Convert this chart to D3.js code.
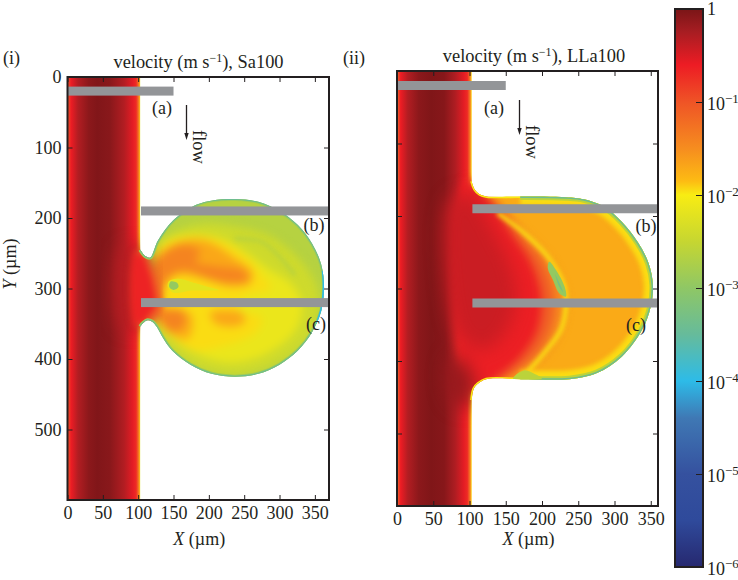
<!DOCTYPE html>
<html><head><meta charset="utf-8">
<script src="https://cdn.jsdelivr.net/npm/d3@7/dist/d3.min.js"></script>
<style>
html,body{margin:0;padding:0;background:#fff}
svg{display:block}
text{font-family:"Liberation Serif",serif;fill:#231f20}
</style></head><body><svg id="c" width="738" height="580"></svg>
<script>
// colour bar: log10 velocity -> colour
const barLevels=[0,-0.25,-0.6,-1,-1.5,-1.85,-2,-2.5,-3,-3.5,-4,-4.4,-5,-5.5,-6];
const barColours=["#7a1517","#a81d22","#ed1c24","#ef5426","#f68d1f","#fdbb13","#f8ec13","#c6d631","#8fc765","#66bb9b","#2dbbe8","#3f78b4","#35519f","#2f4a9b","#26286f"];
const barTicks=[1,1e-1,1e-2,1e-3,1e-4,1e-5,1e-6];
// axis ticks
const xTicks=[0,50,100,150,200,250,300,350];
const yTicks=[0,100,200,300,400,500];
// walls of the domains, µm
const channelI=[[103,600],[0,600],[0,0],[103,0]];
const rimI=[[103,245],[110,254],[117,256],[128,232],[150,203],[183,181],[205,175],[237,173],[270,177],[300,190],[326,210],[346,236],[359,266],[363,299],[359,332],[346,362],[326,388],[300,408],[270,421],[237,425],[204,421],[174,408],[148,388],[135,370],[126,354],[120,347],[113,345],[107,349],[103,354]];
const rimBlueI=[[362,275],[363,299],[360,328],[353,350]];
const channelII=[[103,600],[0,600],[0,0],[103,0]];
const rimII=[[103,152],[107,163],[114,170],[124,173],[170,173],[233,174],[258,177],[285,187],[310,208],[332,236],[347,265],[353,295],[350,325],[338,357],[310,394],[275,417],[238,425],[170,425],[123,425],[112,431],[106,438],[103,454]];
const rimBandII=[[170,173],[233,174],[258,177],[285,187],[310,208],[332,236],[347,265],[353,295],[350,325],[338,357],[310,394],[275,417],[238,425],[170,425]];
// velocity across the channel (x µm, log10 v)
const channelXI=[0,1.5,5,15,30,42,60,80,92,97,100,102,103];
const channelLogI=[-1.5,-0.9,-0.6,-0.3,-0.1,-0.04,-0.08,-0.3,-0.55,-0.7,-1.2,-1.7,-2];
const channelXII=[0,1.5,5,15,30,47,65,80,92,97,100,102,103];
const channelLogII=[-1.6,-1,-0.6,-0.3,-0.1,-0.03,-0.07,-0.28,-0.55,-0.7,-1.2,-1.7,-2];
// constant-velocity regions (log10 v, outline in µm), panel i
const baseLogI=-2.65;
const wideLogI=[-2.42,-2.13,-1.95,-1.7,-1.75,-1.7,-1.42,-1.42];
const wideShapesI=[
 [[122,250],[147,222],[190,208],[237,212],[284,224],[325,255],[352,295],[356,330],[342,370],[302,404],[247,422],[190,415],[147,386],[126,356]],
 [[135,235],[176,224],[214,228],[247,245],[284,272],[316,293],[332,323],[322,360],[286,390],[237,405],[190,396],[150,372],[126,345],[112,300]],
 [[129,245],[166,226],[209,229],[256,257],[275,281],[287,300],[251,311],[240,328],[275,342],[265,363],[218,382],[176,387],[143,363],[124,344],[112,300]],
 [[124,262],[148,238],[185,231],[209,238],[237,257],[261,276],[258,293],[228,297],[190,286],[157,281],[138,295],[129,305]],
 [[122,328],[152,328],[176,338],[171,371],[148,366],[129,347]],
 [[202,335],[223,331],[247,335],[251,347],[232,354],[209,349]],
 [[117,271],[138,248],[166,238],[188,248],[181,262],[214,269],[247,274],[256,286],[237,291],[204,286],[166,274],[143,283],[131,305]],
 [[119,331],[138,331],[162,331],[166,352],[150,361],[133,349]]];
const softLogI=[-0.32];
const softShapesI=[[[76,245],[105,245],[115,300],[105,352],[76,352]]];
const fanLogI=[-1.1,-0.65];
const fanShapesI=[
 [[95,248],[108,248],[121,271],[133,300],[135,328],[124,344],[108,352],[95,352]],
 [[95,250],[106,252],[114,270],[122,300],[124,325],[114,340],[106,350],[95,350]]];
const detailLogI=[-2.2,-2.95];
const detailShapesI=[
 [[143,290],[155,286],[176,291],[197,297],[214,302],[176,303],[150,306],[142,298]],
 [[146,290],[155,292],[157,298],[150,302],[144,298]]];
const streakI=[[237,229],[275,234],[298,253],[322,281]];
// panel ii
const baseLogII=-1.72;
const softLogII=[-0.42,-0.14];
const softShapesII=[
 [[72,180],[100,170],[130,215],[155,265],[165,310],[150,360],[120,385],[90,370],[72,320]],
 [[72,395],[88,398],[106,428],[95,465],[72,450]]];
const fanLogII=[-1.5,-1.1,-0.62];
const fanShapesII=[
 [[100,150],[135,178],[178,224],[212,262],[232,307],[228,352],[205,392],[165,422],[120,440],[95,445]],
 [[98,150],[135,178],[171,224],[201,261],[217,307],[215,348],[194,389],[157,420],[120,440],[95,445]],
 [[94,150],[125,178],[158,224],[185,265],[199,311],[194,357],[171,394],[139,422],[110,442],[94,442]]];
const arcII=[[139,196],[176,224],[208,256],[231,297],[233,325],[226,357],[203,389],[180,415]];
const detailLogII=[-2.6,-2.95,-3.3];
const detailShapesII=[
 [[160,424],[175,413],[190,418],[200,424]],
 [[210,263],[219,274],[231,297],[233,311],[224,307],[215,288],[208,272]],
 [[218,280],[226,297],[229,305],[224,298]]];
// rim bands (log10 v)
const rimLogI=[-2.85,-3.4];
const bandLogII=[-1.95,-2.6,-3.4];
// annotations
const barNames=["(a)","(b)","(c)"];
const barStartsX=[0,104,104];
const barEndsX=[150,370,370];
const barsY=[20,190,320];

const svg=d3.select("#c");
const defs=svg.append("defs");
const colour=d3.scaleLinear().domain(barLevels).range(barColours).interpolate(d3.interpolateRgb);
const blur=(id,s)=>defs.append("filter").attr("id",id).attr("color-interpolation-filters","sRGB").attr("x","-40%").attr("y","-40%").attr("width","180%").attr("height","180%")
  .append("feGaussianBlur").attr("stdDeviation",s);
blur("b1",0.7);blur("b2",2);blur("b3",3);blur("b4",4);blur("b8",9);
const noLabel=()=>"";

function panel(p){
  const x=d3.scaleLinear().domain([0,p.xMax]).range([p.l,p.r]);
  const y=d3.scaleLinear().domain([0,600]).range([p.t,p.b]);
  const g=svg.append("g");
  const cur=d3.line().x(d=>x(d[0])).y(d=>y(d[1])).curve(d3.curveCatmullRom);
  const closed=d3.line().x(d=>x(d[0])).y(d=>y(d[1])).curve(d3.curveCatmullRomClosed.alpha(0.5));
  const straight=p.channel.map(d=>"L"+x(d[0])+","+y(d[1])).join("");
  const wall=cur(p.rim)+straight+"Z";
  defs.append("clipPath").attr("id","clip"+p.id).append("path").attr("d",wall);
  defs.append("clipPath").attr("id","axes"+p.id).append("rect").attr("x",p.l).attr("y",p.t).attr("width",p.r-p.l).attr("height",p.b-p.t);
  const gr=defs.append("linearGradient").attr("id","grad"+p.id).attr("gradientUnits","userSpaceOnUse")
    .attr("x1",x(0)).attr("x2",x(103)).attr("y1",0).attr("y2",0);
  p.channelX.forEach((v,i)=>gr.append("stop").attr("offset",v/103).attr("stop-color",colour(p.channelLog[i])));
  const f=g.append("g").attr("clip-path",`url(#clip${p.id})`);
  f.append("path").attr("d",wall).attr("fill",colour(p.base));
  f.append("rect").attr("x",x(0)).attr("y",y(0)).attr("width",x(103)-x(0)).attr("height",y(600)-y(0)).attr("fill",`url(#grad${p.id})`);
  p.layers.forEach(l=>{
    const lg=f.append("g").attr("filter",`url(#${l.blur})`);
    l.shapes.forEach((s,i)=>lg.append("path").attr("d",closed(s)).attr("fill",colour(l.logs[i])));
  });
  p.strokes.forEach(s=>{
    f.append("path").attr("filter",`url(#${s.blur})`).attr("d",cur(s.points)).attr("fill","none")
      .attr("stroke",colour(s.log)).attr("stroke-width",s.width);
  });
  (p.after||[]).forEach(l=>{
    const lg=f.append("g").attr("filter",`url(#${l.blur})`);
    l.shapes.forEach((s,i)=>lg.append("path").attr("d",closed(s)).attr("fill",colour(l.logs[i])));
  });
  // grey bars
  const bars=g.append("g").attr("clip-path",`url(#axes${p.id})`);
  barsY.forEach((v,i)=>bars.append("rect").attr("x",x(barStartsX[i])).attr("width",x(barEndsX[i])-x(barStartsX[i]))
     .attr("y",y(v)-4.5).attr("height",9).attr("fill","#939598"));
  // axes with inward ticks
  const style=a=>{a.select(".domain").remove();a.selectAll("line").attr("stroke","#231f20").attr("stroke-width",1);
    a.selectAll("text").attr("font-size",18).attr("font-family","Liberation Serif").attr("fill","#231f20");};
  style(g.append("g").attr("transform",`translate(0,${p.b})`).call(d3.axisBottom(x).tickValues(xTicks).tickSize(-5).tickPadding(6)));
  style(g.append("g").attr("transform",`translate(0,${p.t})`).call(d3.axisTop(x).tickValues(xTicks).tickSize(-5).tickFormat(noLabel)));
  style(g.append("g").attr("transform",`translate(${p.r},0)`).call(d3.axisRight(y).tickValues(yTicks).tickSize(-5).tickFormat(noLabel)));
  style(g.append("g").attr("transform",`translate(${p.l},0)`).call(d3.axisLeft(y).tickValues(yTicks).tickSize(-5).tickPadding(6).tickFormat(p.yLabels?d3.format("d"):noLabel)));
  g.append("rect").attr("x",p.l).attr("y",p.t).attr("width",p.r-p.l).attr("height",p.b-p.t).attr("fill","none").attr("stroke","#231f20").attr("stroke-width",2);
  // title and axis title
  const t=g.append("text").attr("x",p.tx).attr("y",p.ty).attr("text-anchor","middle").attr("font-size",18.4);
  t.append("tspan").text("velocity (m s");
  t.append("tspan").text("\u22121").attr("font-size",12).attr("dy",-6);
  t.append("tspan").text("), "+p.name).attr("dy",6);
  const xl=g.append("text").attr("x",(p.l+p.r)/2+1).attr("y",545).attr("text-anchor","middle").attr("font-size",18);
  xl.append("tspan").text("X").attr("font-style","italic");xl.append("tspan").text(" (\u00b5m)");
  g.append("text").attr("x",p.panelX).attr("y",64).attr("font-size",18).text(p.panel);
  // labels on the bars
  p.labels.forEach((q,i)=>g.append("text").attr("x",q[0]).attr("y",q[1]).attr("text-anchor","middle").attr("font-size",18).text(barNames[i]));
  // flow arrow
  g.append("line").attr("x1",p.ax).attr("x2",p.ax).attr("y1",p.ay).attr("y2",p.ay+30).attr("stroke","#231f20").attr("stroke-width",1.3);
  g.append("path").attr("d",`M${p.ax-2.2},${p.ay+28}L${p.ax+2.2},${p.ay+28}L${p.ax},${p.ay+35}Z`).attr("fill","#231f20");
  g.append("text").attr("transform",`translate(${p.ax+6.5},${p.ay+25}) rotate(90)`).attr("font-size",18.5).text("flow");
}

panel({id:"i",panel:"(i)",panelX:3,name:"Sa100",xMax:370,l:67.5,r:329,t:77,b:500,tx:198.5,ty:68,yLabels:true,
  channel:channelI,rim:rimI,channelX:channelXI,channelLog:channelLogI,base:baseLogI,
  layers:[{blur:"b4",shapes:wideShapesI,logs:wideLogI},
          {blur:"b8",shapes:softShapesI,logs:softLogI},
          {blur:"b3",shapes:fanShapesI,logs:fanLogI},
          {blur:"b1",shapes:detailShapesI,logs:detailLogI}],
  strokes:[{points:streakI,log:-2.6,width:4,blur:"b2"},
           {points:rimI,log:rimLogI[0],width:4,blur:"b1"},
           {points:rimI,log:rimLogI[1],width:2,blur:"b1"},
           {points:rimBlueI,log:-4,width:3,blur:"b1"}],
  labels:[[162,114],[314,231],[316,330]],ax:186.5,ay:105});
panel({id:"ii",panel:"(ii)",panelX:343,name:"LLa100",xMax:360,l:397,r:658,t:71,b:506,tx:534,ty:62,yLabels:false,
  channel:channelII,rim:rimII,channelX:channelXII,channelLog:channelLogII,base:baseLogII,
  layers:[{blur:"b4",shapes:fanShapesII,logs:fanLogII},
          {blur:"b8",shapes:softShapesII,logs:softLogII}],
  strokes:[{points:arcII,log:-1.97,width:4,blur:"b2"},
           {points:rimBandII,log:bandLogII[0],width:18,blur:"b2"},
           {points:rimII,log:-2,width:3,blur:"b1"},
           {points:rimBandII,log:bandLogII[1],width:7,blur:"b1"},
           {points:rimBandII,log:bandLogII[2],width:3,blur:"b1"}],
  after:[{blur:"b1",shapes:detailShapesII,logs:detailLogII}],
  labels:[[494,114],[646,232],[636,331]],ax:519.5,ay:100});

// Y axis title
const yl=svg.append("text").attr("transform","translate(16,264) rotate(-90)").attr("text-anchor","middle").attr("font-size",18);
yl.append("tspan").text("Y").attr("font-style","italic");yl.append("tspan").text(" (\u00b5m)");

// colour bar
const by=d3.scaleLog().domain([1e-6,1]).range([567,9]);
const bg=defs.append("linearGradient").attr("id","bar").attr("x1",0).attr("x2",0).attr("y1",1).attr("y2",0);
barLevels.slice().reverse().forEach(l=>bg.append("stop").attr("offset",(l+6)/6).attr("stop-color",colour(l)));
const cb=svg.append("g");
cb.append("rect").attr("x",675).attr("y",by(1)).attr("width",28).attr("height",by(1e-6)-by(1)).attr("fill","url(#bar)");
const ax=cb.append("g").attr("transform","translate(703,0)").call(d3.axisRight(by).tickValues(barTicks).tickSize(-7).tickFormat(noLabel));
ax.select(".domain").remove();ax.selectAll("line").attr("stroke","#231f20");
cb.append("rect").attr("x",675).attr("y",by(1)).attr("width",28).attr("height",by(1e-6)-by(1)).attr("fill","none").attr("stroke","#231f20").attr("stroke-width",2);
barTicks.forEach(v=>{
  const e=Math.round(Math.log10(v));
  const t=cb.append("text").attr("x",707).attr("y",by(v)+(e===0?6:8)).attr("font-size",18);
  if(e===0){t.text("1");return;}
  t.append("tspan").text("10");
  t.append("tspan").text("\u2212"+(-e)).attr("font-size",13).attr("dy",-7);
});
</script></body></html>
